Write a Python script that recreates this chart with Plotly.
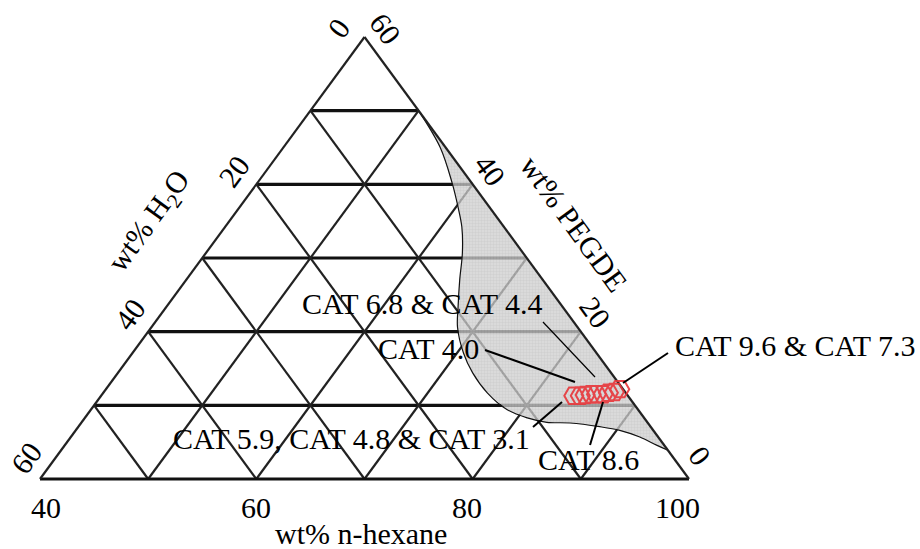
import plotly.graph_objects as go

# ---- composition data (wt%) ----
# axis ticks
hexane_ticks = [40, 60, 80, 100]
water_ticks = [0, 20, 40, 60]
pegde_ticks = [0, 20, 40, 60]
grid_levels = [10, 20, 30, 40, 50]

# two-phase boundary, from the PEGDE edge down to the n-hexane corner
boundary_hexane = [50.0, 54.5, 58.0, 60.2, 61.9, 63.7, 65.3, 67.0, 68.3, 70.6, 72.8,
                   75.5, 78.5, 80.9, 83.0, 85.2, 88.2, 90.3, 92.6, 94.7, 96.1]
boundary_water = [0.0, 0.5, 1.8, 2.9, 3.9, 5.6, 7.7, 9.7, 11.1, 12.3, 12.8,
                  12.8, 12.1, 10.8, 9.3, 7.2, 4.7, 3.1, 1.7, 0.7, 0.0]
boundary_pegde = [50.0, 45.0, 40.2, 36.9, 34.2, 30.7, 27.0, 23.3, 20.6, 17.1, 14.4,
                  11.7, 9.4, 8.3, 7.7, 7.6, 7.1, 6.6, 5.7, 4.6, 3.9]

# microemulsion samples
cat_names = ["CAT 5.9", "CAT 4.8", "CAT 3.1", "CAT 4.0", "CAT 6.8",
             "CAT 4.4", "CAT 8.6", "CAT 7.3", "CAT 9.6"]
cat_hexane = [83.7, 84.3, 84.7, 85.2, 85.7, 86.3, 86.7, 87.2, 87.5]
cat_water = [5.0, 4.4, 3.9, 3.3, 2.8, 2.2, 1.6, 1.0, 0.3]
cat_pegde = [11.3, 11.3, 11.4, 11.5, 11.5, 11.5, 11.7, 11.8, 12.2]

SERIF = "Liberation Serif, Times New Roman, serif"
FS = 30


def to_xy(h, w, p):
    """n-hexane runs 40 -> 100 along the base, PEGDE 0 -> 60 towards the apex."""
    s = h + w + p
    h, p = 100 * h / s, 100 * p / s
    return (h - 40) + p / 2, p


def seg_trace(points, width, color="#1a1a1a"):
    xs, ys = [], []
    for a, b in points:
        xa, ya = to_xy(*a)
        xb, yb = to_xy(*b)
        xs += [xa, xb, None]
        ys += [ya, yb, None]
    return go.Scatter(x=xs, y=ys, mode="lines", line=dict(color=color, width=width),
                      hoverinfo="skip", showlegend=False)


fig = go.Figure()

# constant-PEGDE lines (horizontal)
fig.add_trace(seg_trace([((40, 60 - v, v), (100 - v, 0, v)) for v in grid_levels], 3.2, "#111"))
# constant n-hexane lines (parallel to the H2O edge)
fig.add_trace(seg_trace([((40 + v, 60 - v, 0), (40 + v, 0, 60 - v)) for v in grid_levels], 2.2, "#222"))
# constant H2O lines (parallel to the PEGDE edge)
fig.add_trace(seg_trace([((100 - v, v, 0), (40, v, 60 - v)) for v in grid_levels], 2.2, "#222"))

# two-phase region
bx, by = [], []
for h, w, p in zip(boundary_hexane, boundary_water, boundary_pegde):
    x, y = to_xy(h, w, p)
    bx.append(x)
    by.append(y)
fig.add_trace(go.Scatter(x=bx + [bx[0]], y=by + [by[0]], mode="lines", fill="toself",
                         line=dict(width=0, color="rgba(0,0,0,0)"),
                         fillcolor="#cacaca",
                         fillpattern=dict(shape="+", size=3, solidity=0.25,
                                          fgcolor="#a4a4a4", bgcolor="#cecece"),
                         opacity=0.76, hoverinfo="skip", showlegend=False))
fig.add_trace(go.Scatter(x=bx, y=by, mode="lines", line=dict(color="#111", width=1.2, shape="spline"),
                         hoverinfo="skip", showlegend=False))

# outer triangle
fig.add_trace(seg_trace([((40, 60, 0), (100, 0, 0))], 3.2, "#111"))
fig.add_trace(seg_trace([((40, 60, 0), (40, 0, 60)), ((100, 0, 0), (40, 0, 60))], 2.2, "#222"))

# leader lines from the labels to the samples
leaders = [((46.50, 21.31), (51.31, 13.85), 1.2),
           ((41.14, 17.51), (49.46, 13.17), 2),
           ((58.06, 17.10), (53.90, 13.03), 2),
           ((45.58, 7.06), (48.26, 10.45), 2),
           ((50.85, 4.62), (52.05, 10.45), 2)]
for (x0, y0), (x1, y1), wdt in leaders:
    fig.add_shape(type="line", x0=x0, y0=y0, x1=x1, y1=y1, xref="x", yref="y",
                  line=dict(color="black", width=wdt))

# samples
sx, sy = zip(*[to_xy(h, w, p) for h, w, p in zip(cat_hexane, cat_water, cat_pegde)])
fig.add_trace(go.Scatter(x=sx, y=sy, mode="markers", text=cat_names,
                         marker=dict(symbol="hexagon2-open", size=19,
                                     line=dict(color="#e8363a", width=2), color="#e8363a"),
                         opacity=0.9,
                         hovertemplate="%{text}<extra></extra>", showlegend=False))

ann = []


def label(x, y, text, angle=0, xshift=0, yshift=0, size=FS):
    ann.append(dict(x=x, y=y, xref="x", yref="y", text=text, showarrow=False,
                    textangle=angle, xshift=xshift, yshift=yshift,
                    font=dict(family=SERIF, size=size, color="black")))


# sample labels
label(35.36, 23.89, "CAT 6.8 & CAT 4.4")
label(35.92, 17.65, "CAT 4.0")
label(69.80, 18.12, "CAT 9.6 & CAT 7.3")
label(28.84, 5.50, "CAT 5.9, CAT 4.8 & CAT 3.1")
label(50.75, 2.71, "CAT 8.6")

# tick labels
for h in hexane_ticks:
    x, y = to_xy(h, 100 - h, 0)
    label(x, y, str(h), xshift=6 - (h - 40) * 0.3, yshift=-28)
for w in water_ticks:
    x, y = to_xy(40, w, 60 - w)
    label(x, y, str(w), angle=-54, xshift=-26.5 + w * 0.2, yshift=9 + w * 0.2)
for p in pegde_ticks:
    x, y = to_xy(100 - p, 0, p)
    label(x, y, str(p), angle=54, xshift=11 + p / 6, yshift=24 - p / 4)

# axis titles
label(29.68, -7.33, "wt% n-hexane")
label(10.17, 34.88, "wt% H<sub>2</sub>O", angle=-54)
label(49.37, 34.75, "wt% PEGDE", angle=54)

fig.update_layout(
    width=920, height=549,
    margin=dict(l=0, r=0, t=0, b=0),
    paper_bgcolor="white", plot_bgcolor="white",
    xaxis=dict(range=[-3.698, 81.356], visible=False, fixedrange=True),
    yaxis=dict(range=[-9.502, 65.023], visible=False, fixedrange=True),
    annotations=ann,
)

fig.write_html("out.html")
